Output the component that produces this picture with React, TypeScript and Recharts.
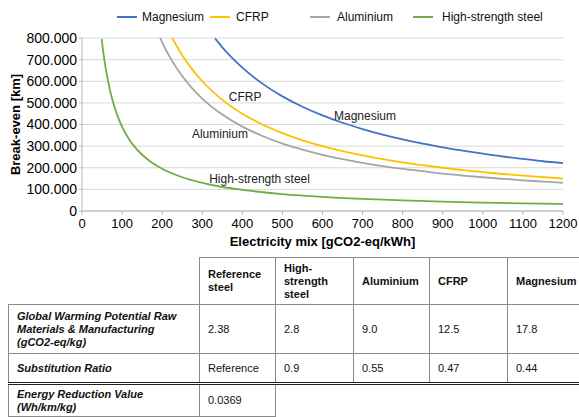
import React from 'react';
import {
  LineChart,
  Line,
  XAxis,
  YAxis,
  CartesianGrid,
  Legend,
  ReferenceDot,
  Label,
} from 'recharts';

// Electricity mix [gCO2-eq/kWh] and break-even [km]
const magnesiumX = [332, 350, 375, 400, 450, 500, 550, 600, 650, 700, 750, 800, 850, 900, 950, 1000, 1050, 1100, 1150, 1200];
const magnesiumY = [798000, 757000, 707000, 663000, 589000, 530000, 482000, 442000, 408000, 379000, 353000, 331000, 312000, 294000, 279000, 265000, 252000, 241000, 230000, 221000];

const cfrpX = [225, 250, 275, 300, 350, 400, 450, 500, 550, 600, 650, 700, 750, 800, 850, 900, 950, 1000, 1050, 1100, 1150, 1200];
const cfrpY = [800000, 720000, 655000, 600000, 514000, 450000, 400000, 360000, 327000, 300000, 277000, 257000, 240000, 225000, 212000, 200000, 189000, 180000, 171000, 164000, 157000, 150000];

const aluminiumX = [195, 200, 225, 250, 275, 300, 350, 400, 450, 500, 550, 600, 650, 700, 750, 800, 850, 900, 950, 1000, 1050, 1100, 1150, 1200];
const aluminiumY = [800000, 780000, 693000, 624000, 567000, 520000, 446000, 390000, 347000, 312000, 284000, 260000, 240000, 223000, 208000, 195000, 184000, 173000, 164000, 156000, 149000, 142000, 136000, 130000];

const hssX = [49, 50, 55, 60, 70, 80, 90, 100, 115, 130, 150, 175, 200, 250, 300, 350, 400, 500, 600, 700, 800, 900, 1000, 1100, 1200];
const hssY = [796000, 780000, 709000, 650000, 557000, 488000, 433000, 390000, 339000, 300000, 260000, 223000, 195000, 156000, 130000, 111000, 98000, 78000, 65000, 56000, 49000, 43000, 39000, 35000, 33000];

const xTicks = [0, 100, 200, 300, 400, 500, 600, 700, 800, 900, 1000, 1100, 1200];
const yTicks = [0, 100000, 200000, 300000, 400000, 500000, 600000, 700000, 800000];

const seriesNames = ['Magnesium', 'CFRP', 'Aluminium', 'High-strength steel'];
const seriesColors = ['#4472C4', '#FFC000', '#A5A5A5', '#70AD47'];

// in-plot annotations: [text, x, y]
const annotationText = ['CFRP', 'Aluminium', 'Magnesium', 'High-strength steel'];
const annotationX = [407, 344, 706, 443];
const annotationY = [527000, 356000, 439000, 148000];

// table
const tableHeaders = ['Reference steel', 'High-strength steel', 'Aluminium', 'CFRP', 'Magnesium'];
const gwpValues = ['2.38', '2.8', '9.0', '12.5', '17.8'];
const substitutionValues = ['Reference', '0.9', '0.55', '0.47', '0.44'];
const energyValues = ['0.0369'];

const toPoints = (xs: number[], ys: number[]) => xs.map((x, i) => ({ x, y: ys[i] }));
const seriesData = [
  toPoints(magnesiumX, magnesiumY),
  toPoints(cfrpX, cfrpY),
  toPoints(aluminiumX, aluminiumY),
  toPoints(hssX, hssY),
];

const FONT = "'Liberation Sans', Arial, sans-serif";

const fmtY = (v: number) => {
  if (v === 0) return '0';
  const k = Math.round(v / 1000);
  return `${k}.000`;
};

const legendLineX = [107, 200, 300, 403];
const legendTextX = [132, 226, 327, 432];

const renderLegend = () => (
  <div style={{ position: 'relative', width: 579, height: 38 }}>
    {seriesNames.map((n, i) => (
      <React.Fragment key={n}>
        <div
          style={{
            position: 'absolute',
            left: legendLineX[i],
            top: 16,
            width: 20,
            height: 2,
            background: seriesColors[i],
          }}
        />
        <div
          style={{
            position: 'absolute',
            left: legendTextX[i],
            top: 9,
            fontFamily: FONT,
            fontSize: 12,
            lineHeight: '16px',
            color: '#111',
            whiteSpace: 'nowrap',
          }}
        >
          {n}
        </div>
      </React.Fragment>
    ))}
  </div>
);

const border = '1px solid #8a8a8a';

const cellBase: React.CSSProperties = {
  padding: '0 4px 0 8px',
  verticalAlign: 'middle',
  textAlign: 'left',
  border: border,
  lineHeight: '13px',
};

export default function App() {
  return (
    <div
      style={{
        position: 'absolute',
        left: 0,
        top: 0,
        width: 579,
        height: 417,
        overflow: 'hidden',
        background: '#fff',
        fontFamily: FONT,
      }}
    >
      <LineChart
        width={579}
        height={250}
        margin={{ top: 0, right: 16, bottom: 0, left: 10 }}
      >
        <Legend verticalAlign="top" height={38} content={renderLegend} />
        <CartesianGrid vertical={false} stroke="#d9d9d9" strokeWidth={1} />
        <XAxis
          type="number"
          dataKey="x"
          domain={[0, 1200]}
          ticks={xTicks}
          interval={0}
          height={39}
          tickSize={4}
          tickMargin={4}
          stroke="#b5b5b5"
          tick={{ fill: '#000', fontSize: 13, fontFamily: FONT }}
          allowDuplicatedCategory={false}
        >
          <Label
            value="Electricity mix [gCO2-eq/kWh]"
            position="insideBottom"
            offset={4}
            style={{ fill: '#000', fontSize: 13, fontWeight: 'bold', fontFamily: FONT }}
          />
        </XAxis>
        <YAxis
          type="number"
          domain={[0, 800000]}
          ticks={yTicks}
          interval={0}
          width={72}
          tickSize={3}
          tickMargin={2}
          stroke="#b5b5b5"
          tickFormatter={fmtY}
          tick={{ fill: '#000', fontSize: 14, fontFamily: FONT }}
        >
          <Label
            value="Break-even [km]"
            angle={-90}
            position="insideLeft"
            offset={5}
            style={{ fill: '#000', fontSize: 13, fontWeight: 'bold', fontFamily: FONT, textAnchor: 'middle' }}
          />
        </YAxis>
        {seriesData.map((d, i) => (
          <Line
            key={seriesNames[i]}
            data={d}
            dataKey="y"
            name={seriesNames[i]}
            type="monotone"
            stroke={seriesColors[i]}
            strokeWidth={1.8}
            dot={false}
            activeDot={false}
            isAnimationActive={false}
          />
        ))}
        {annotationText.map((t, i) => (
          <ReferenceDot
            key={t}
            x={annotationX[i]}
            y={annotationY[i]}
            r={0}
            fill="none"
            stroke="none"
            label={{ value: t, position: 'center', fill: '#222', fontSize: 12, fontFamily: FONT }}
          />
        ))}
      </LineChart>

      <table
        style={{
          position: 'absolute',
          left: 8,
          top: 257,
          borderCollapse: 'collapse',
          tableLayout: 'fixed',
          width: 572,
          fontFamily: FONT,
          fontSize: 11,
          color: '#111',
        }}
      >
        <colgroup>
          <col style={{ width: 191 }} />
          <col style={{ width: 76 }} />
          <col style={{ width: 78 }} />
          <col style={{ width: 76 }} />
          <col style={{ width: 78 }} />
          <col style={{ width: 73 }} />
        </colgroup>
        <tbody>
          <tr style={{ height: 47 }}>
            <td style={{ ...cellBase, borderTop: 'none', borderLeft: 'none' }} />
            {tableHeaders.map((h) => (
              <td key={h} style={{ ...cellBase, fontWeight: 'bold' }}>
                {h}
              </td>
            ))}
          </tr>
          <tr style={{ height: 49 }}>
            <td style={{ ...cellBase, fontWeight: 'bold', fontStyle: 'italic' }}>
              Global Warming Potential Raw
              <br />
              Materials &amp; Manufacturing
              <br />
              (gCO2-eq/kg)
            </td>
            {gwpValues.map((v, i) => (
              <td key={i} style={cellBase}>
                {v}
              </td>
            ))}
          </tr>
          <tr style={{ height: 30 }}>
            <td style={{ ...cellBase, fontWeight: 'bold', fontStyle: 'italic', borderBottom: '3px double #222' }}>
              Substitution Ratio
            </td>
            {substitutionValues.map((v, i) => (
              <td key={i} style={{ ...cellBase, borderBottom: '3px double #222' }}>
                {v}
              </td>
            ))}
          </tr>
          <tr style={{ height: 33 }}>
            <td style={{ ...cellBase, fontWeight: 'bold', fontStyle: 'italic' }}>
              Energy Reduction Value
              <br />
              (Wh/km/kg)
            </td>
            <td style={cellBase}>{energyValues[0]}</td>
            <td style={{ ...cellBase, border: 'none', borderLeft: border }} />
            <td style={{ ...cellBase, border: 'none' }} />
            <td style={{ ...cellBase, border: 'none' }} />
            <td style={{ ...cellBase, border: 'none' }} />
          </tr>
        </tbody>
      </table>
    </div>
  );
}
